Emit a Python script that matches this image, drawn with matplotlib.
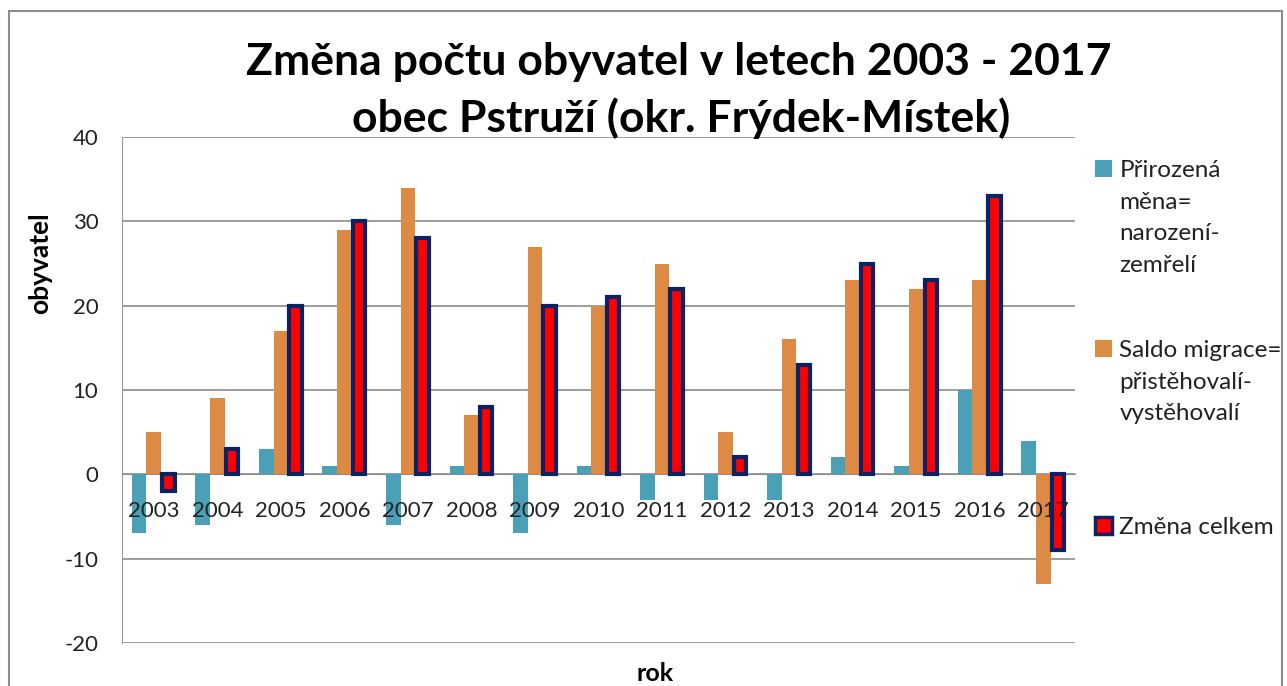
import numpy as np
import matplotlib
matplotlib.use("Agg")
from matplotlib import pyplot as plt
from matplotlib.patches import Patch, Rectangle
from matplotlib.legend_handler import HandlerPatch

plt.rcParams['font.family'] = ['Lato', 'DejaVu Sans']
plt.rcParams['axes.unicode_minus'] = False

roky = ['2003', '2004', '2005', '2006', '2007', '2008', '2009', '2010',
        '2011', '2012', '2013', '2014', '2015', '2016', '2017']
prirozena = [-7, -6, 3, 1, -6, 1, -7, 1, -3, -3, -3, 2, 1, 10, 4]
migrace = [5, 9, 17, 29, 34, 7, 27, 20, 25, 5, 16, 23, 22, 23, -13]
celkem = [-2, 3, 20, 30, 28, 8, 20, 21, 22, 2, 13, 25, 23, 33, -9]

nazvy = ['Přirozená\nměna=\nnarození-\nzemřelí',
         'Saldo migrace=\npřistěhovalí-\nvystěhovalí',
         'Změna celkem']

c_teal = '#4aa0b6'
c_orange = '#dd8a45'
c_red = '#ff0000'
c_navy = '#0b2265'


# znacka legendy zarovnana k prvnimu radku textu
class HandlerNahoru(HandlerPatch):
    def __init__(self, posun):
        super().__init__()
        self.posun = posun

    def create_artists(self, legend, orig_handle, xdescent, ydescent, width, height, fontsize, trans):
        art = super().create_artists(legend, orig_handle, xdescent, ydescent, width, height, fontsize, trans)
        for a in art:
            a.set_y(a.get_y() + self.posun)
        return art


fig = plt.figure(figsize=(12.87, 6.86), dpi=100)
ax = fig.add_axes([122 / 1287, 1 - 643 / 686, (1075 - 122) / 1287, (643 - 137) / 686])

x = np.arange(len(roky))
w = 0.23
ax.bar(x - w, prirozena, w, color=c_teal, zorder=3)
ax.bar(x, migrace, w, color=c_orange, zorder=3)
ax.bar(x + w, celkem, w * 0.85, color=c_red, edgecolor=c_navy, linewidth=3, zorder=4)

ax.set_xlim(-0.5, len(roky) - 0.5)
ax.set_ylim(-20, 40)
ax.set_yticks([-20, -10, 0, 10, 20, 30, 40])
ax.yaxis.grid(True, color='#8c8c8c', linewidth=1.2, zorder=0)
ax.set_xticks(x)
ax.set_xticklabels(roky)
ax.tick_params(axis='both', length=0, labelsize=16, colors='#222222')
ax.tick_params(axis='y', pad=17)
ax.tick_params(axis='x', pad=19)
ax.xaxis.set_zorder(5)  # popisky let nad sloupci

ax.spines['bottom'].set_position(('data', 0))
ax.spines['bottom'].set_color('#8c8c8c')
ax.spines['left'].set_color('#9a9a9a')
ax.spines['top'].set_visible(False)
ax.spines['right'].set_visible(False)

ax.set_ylabel('obyvatel', fontsize=19, fontweight='bold')
ax.yaxis.set_label_coords(-0.073, 0.75)
ax.set_xlabel('rok', fontsize=18, fontweight='bold')
ax.xaxis.set_label_coords(0.559, -0.038)

fig.text(679 / 1287, 1 - 62 / 686, 'Změna počtu obyvatel v letech 2003 - 2017',
         ha='center', va='center', fontsize=32, fontweight='bold')
fig.text(681 / 1287, 1 - 118 / 686, 'obec Pstruží (okr. Frýdek-Místek)',
         ha='center', va='center', fontsize=32, fontweight='bold')

handles = [Patch(facecolor=c_teal), Patch(facecolor=c_orange),
           Patch(facecolor=c_red, edgecolor=c_navy, linewidth=2.5)]
horni = [160, 340, 517]
radek = 23.8
for h, nazev, y0 in zip(handles, nazvy, horni):
    n = nazev.count('\n')
    leg = fig.legend([h], [nazev], loc='upper left', bbox_to_anchor=(1095 / 1287, 1 - y0 / 686),
                     frameon=False, fontsize=17.5, handlelength=0.7, handleheight=0.7,
                     handletextpad=0.3, borderpad=0, borderaxespad=0,
                     handler_map={h: HandlerNahoru(n * radek / 2)})
    leg.get_texts()[0].set_linespacing(1.62)
    leg.get_texts()[0].set_color('#222222')

# ramecek grafu
fig.patches.append(Rectangle((9 / 1287, -0.01), 1273 / 1287, 1 - 11 / 686 + 0.01,
                             transform=fig.transFigure, fill=False,
                             edgecolor='#8c8c8c', linewidth=1.5))

fig.savefig('out.png', dpi=100)
